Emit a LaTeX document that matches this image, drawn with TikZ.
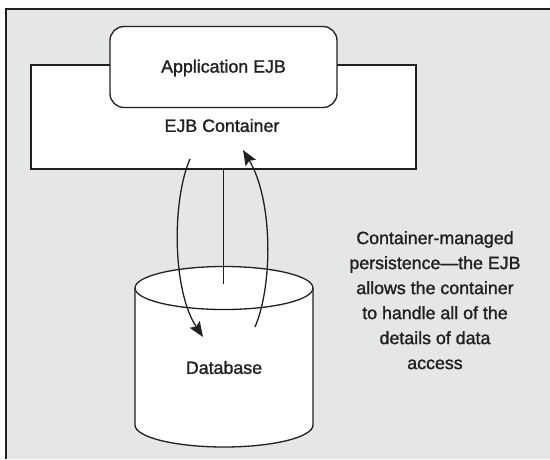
\documentclass[tikz,border=0pt]{standalone}
\usepackage{fontspec}
\setmainfont[FakeBold=1.3]{Liberation Sans}
\usetikzlibrary{arrows.meta}
\definecolor{bg}{RGB}{229,230,232}
\definecolor{ink}{RGB}{35,31,32}
\begin{document}
\begin{tikzpicture}[x=1pt,y=-1pt,
  every node/.style={font=\fontsize{17.8}{25}\selectfont, text=ink},
  box/.style={draw=ink, line width=1.3pt, fill=white, inner sep=0pt},
  wire/.style={draw=ink, line width=1.3pt},
  flow/.style={draw=ink, line width=1.3pt, -{Stealth[length=15pt,width=12pt,inset=2.5pt]}}]
\useasboundingbox (0,0) rectangle (550,459);
\fill[bg] (6,9) rectangle (550,459);
\draw[ink, line width=2pt] (6,459) -- (6,9) -- (550,9);
% container
\node[box, minimum width=385pt, minimum height=104pt] (cont) at (223.5,117) {};
\node[box, rounded corners=14pt, minimum width=227pt, minimum height=81pt] (app) at (223.5,67) {};
\node (applabel) at (223.5,68) {Application EJB};
\node (contlabel) at (222,125.5) {EJB Container};
% database cylinder
\draw[wire, fill=white] (135,288) -- (135,425) arc[start angle=180, end angle=0, x radius=89, y radius=22] -- (313,288);
\draw[wire, fill=white] (224,288) ellipse [x radius=89, y radius=21.5];
\node (db) at (224,367.5) {Database};
\coordinate (dbtop) at (223.5,284);
\draw[wire] (cont.south) -- (dbtop);
% arrows
\coordinate (a1s) at (190,159);
\coordinate (a1e) at (203,337);
\coordinate (a2s) at (255,327);
\coordinate (a2e) at (243,150);
\draw[flow] (a1s) .. controls (172,200) and (172,290) .. (a1e);
\draw[flow] (a2s) .. controls (273,285) and (273,200) .. (a2e);
% note
\node[anchor=north, align=center, inner sep=0pt] (note) at (435,231)
  {Container-managed\\persistence—the EJB\\allows the container\\to handle all of the\\details of data\\access};
\end{tikzpicture}
\end{document}
